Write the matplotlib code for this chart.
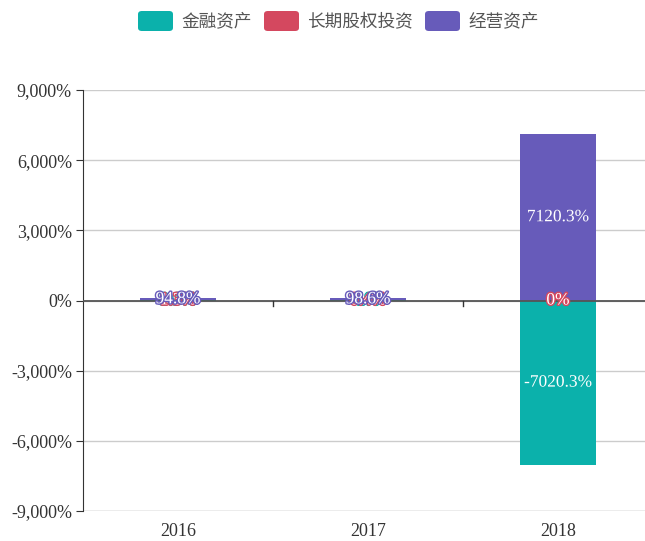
import numpy as np
import matplotlib.pyplot as plt
import matplotlib.patheffects as pe
from matplotlib.patches import FancyBboxPatch
from matplotlib.ticker import FuncFormatter

years = ['2016', '2017', '2018']
series_names = ['金融资产', '长期股权投资', '经营资产']
financial = [3.9, 1.0, -7020.3]
equity = [1.3, 0.4, 0.0]
operating = [94.8, 98.6, 7120.3]
colors = ['#0bb1ab', '#d4485f', '#675bba']

plt.rcParams['font.family'] = ['Liberation Serif', 'Noto Sans CJK SC']

fig = plt.figure(figsize=(6.45, 5.41), dpi=100)
ax = fig.add_axes([83/645, 30/541, 1 - 83/645, 421/541])

x = np.arange(len(years))
pos_base = np.zeros(len(years))
neg_base = np.zeros(len(years))
for vals, col in zip([financial, equity, operating], colors):
    vals = np.array(vals, dtype=float)
    bottoms = np.where(vals >= 0, pos_base, neg_base)
    ax.bar(x, vals, width=0.4, bottom=bottoms, color=col, zorder=3)
    for i in range(len(years)):
        v = vals[i]
        lab = ('%g' % v) + '%' if v != 0 else '0%'
        ax.text(x[i], bottoms[i] + v/2, lab, ha='center', va='center', fontsize=12.5,
                color='white', zorder=5,
                path_effects=[pe.withStroke(linewidth=2, foreground=col)])
    pos_base = np.where(vals >= 0, pos_base + vals, pos_base)
    neg_base = np.where(vals < 0, neg_base + vals, neg_base)

ax.set_xlim(-0.5, -0.5 + 562/190)
ax.set_ylim(-9000, 9000)
ax.set_yticks(np.arange(-9000, 9001, 3000))
ax.yaxis.set_major_formatter(FuncFormatter(lambda v, p: '{:,.0f}%'.format(v)))
ax.grid(axis='y', color='#cccccc', linewidth=1, zorder=0)
ax.axhline(0, color='#555555', linewidth=1.3, zorder=4)
ax.set_xticks(x)
ax.set_xticklabels(years)
ax.tick_params(axis='x', length=0, labelsize=13, colors='#333333', pad=9)
ax.tick_params(axis='y', length=5, labelsize=13, colors='#333333', pad=3)
for s in ['top', 'right', 'bottom']:
    ax.spines[s].set_visible(False)
ax.spines['left'].set_color('#333333')

# small ticks hang from the zero line between the years
for t in [0.5, 1.5]:
    ax.plot([t, t], [0, -250], color='#333333', linewidth=1, zorder=4)
ax.axhline(-9000, color='#cccccc', linewidth=1, zorder=0)

# legend
lx = [138, 264, 425]
for px, col, name in zip(lx, colors, series_names):
    box = FancyBboxPatch((px/645, 1 - 31/541), 35/645, 20/541,
                         boxstyle='round,pad=0,rounding_size=0.006',
                         transform=fig.transFigure, facecolor=col, edgecolor='none')
    fig.patches.append(box)
    fig.text((px + 43)/645, 1 - 21/541, name, ha='left', va='center', fontsize=12.7,
             color='#555555', family=['Noto Sans CJK SC'])

fig.savefig('out.png', dpi=100)
